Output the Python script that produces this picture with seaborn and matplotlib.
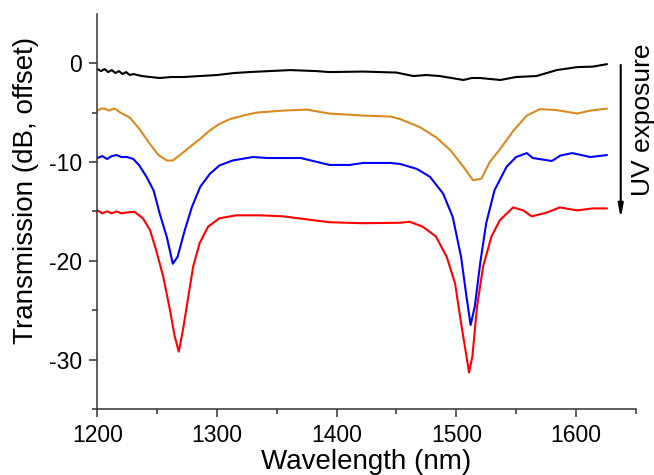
import numpy as np
import pandas as pd
import matplotlib
matplotlib.use("Agg")
import matplotlib.pyplot as plt
from matplotlib.ticker import MultipleLocator, FixedLocator
import seaborn as sns

# ---- data (wavelength in nm, transmission in dB, offset) ----
black_wl = [1200, 1203, 1206, 1209, 1212, 1215, 1218, 1221, 1224, 1227, 1230, 1237, 1244, 1252,
            1262, 1272, 1286, 1300, 1314, 1327, 1344, 1361, 1383, 1394, 1422, 1450, 1464, 1475,
            1486, 1496, 1506, 1513, 1520, 1528, 1537, 1550, 1567, 1584, 1601, 1614, 1626]
black_db = [-0.6, -0.8, -0.6, -0.9, -0.7, -1.0, -0.8, -1.1, -0.9, -1.2, -1.1, -1.3, -1.4, -1.5,
            -1.4, -1.4, -1.3, -1.2, -1.0, -0.9, -0.8, -0.7, -0.8, -0.9, -0.85, -0.95, -1.3, -1.2,
            -1.3, -1.5, -1.7, -1.5, -1.5, -1.6, -1.7, -1.4, -1.3, -0.7, -0.4, -0.35, -0.1]

orange_wl = [1200, 1203, 1206, 1210, 1213, 1216, 1219, 1227, 1235, 1244, 1251, 1258, 1263, 1269,
             1277, 1286, 1294, 1302, 1311, 1322, 1333, 1355, 1375, 1394, 1422, 1445, 1453, 1470,
             1483, 1495, 1506, 1514, 1521, 1528, 1536, 1548, 1559, 1570, 1584, 1601, 1612, 1626]
orange_db = [-4.8, -4.6, -4.6, -4.8, -4.6, -4.7, -5.0, -5.5, -6.65, -8.2, -9.3, -9.85, -9.85, -9.3,
             -8.5, -7.65, -6.8, -6.15, -5.65, -5.3, -5.0, -4.8, -4.7, -5.1, -5.3, -5.4, -5.65, -6.5,
             -7.5, -8.8, -10.5, -11.85, -11.7, -10.0, -8.8, -6.8, -5.3, -4.65, -4.75, -5.1, -4.8, -4.6]

blue_wl = [1200, 1204, 1208, 1212, 1216, 1220, 1225, 1230, 1235, 1241, 1247, 1252, 1258, 1263,
           1267, 1273, 1279, 1286, 1294, 1302, 1313, 1330, 1342, 1370, 1394, 1411, 1422, 1445,
           1453, 1467, 1478, 1489, 1497, 1504, 1508.5, 1512, 1515.5, 1520, 1525, 1532, 1542, 1550,
           1559, 1564, 1580, 1587, 1597, 1612, 1626]
blue_db = [-9.6, -9.4, -9.7, -9.4, -9.3, -9.5, -9.5, -9.7, -10.35, -11.5, -12.9, -15.2, -17.6, -20.3,
           -19.6, -16.9, -14.55, -12.5, -11.2, -10.35, -9.85, -9.5, -9.6, -9.6, -10.3, -10.3, -10.1, -10.1,
           -10.2, -10.7, -11.5, -13.2, -15.55, -19.6, -23.6, -26.5, -24.6, -20.25, -16.2, -12.85, -10.5, -9.5,
           -9.1, -9.6, -9.9, -9.35, -9.1, -9.5, -9.3]

red_wl = [1200, 1204, 1208, 1212, 1216, 1220, 1225, 1231, 1238, 1244, 1249, 1255, 1260.5, 1264.5,
          1268, 1271.5, 1276, 1280, 1285.5, 1292.5, 1302, 1316, 1336, 1355, 1394, 1422, 1453, 1461,
          1472, 1483, 1492, 1499, 1504, 1508.5, 1510.7, 1513.5, 1517.4, 1522.4, 1529.4, 1536.4, 1547.5,
          1556, 1563, 1575, 1586.5, 1601, 1614, 1626]
red_db = [-14.9, -15.2, -15.0, -15.2, -15.0, -15.2, -15.1, -15.05, -15.7, -16.9, -18.9, -21.6, -24.9, -27.6,
          -29.2, -27.0, -23.6, -20.6, -18.2, -16.55, -15.7, -15.4, -15.4, -15.5, -16.1, -16.2, -16.15, -16.05,
          -16.55, -17.55, -19.6, -22.3, -26.3, -29.65, -31.3, -29.65, -24.6, -20.6, -17.55, -15.9, -14.6,
          -14.9, -15.5, -15.15, -14.6, -14.9, -14.7, -14.7]

series_names = ["s0", "s1", "s2", "s3"]
series_colors = ["#000000", "#d98a1f", "#0000ff", "#ff0000"]

frames = []
for name, wl, db in zip(series_names,
                        [black_wl, orange_wl, blue_wl, red_wl],
                        [black_db, orange_db, blue_db, red_db]):
    frames.append(pd.DataFrame({"wavelength": wl, "transmission": db, "series": name}))
df = pd.concat(frames, ignore_index=True)

# ---- plot ----
sns.set_style("ticks")
plt.rcParams["font.family"] = ["Liberation Sans", "DejaVu Sans"]
plt.rcParams["axes.unicode_minus"] = False  # plain hyphen minus like the original
plt.rcParams["text.color"] = "black"
plt.rcParams["axes.labelcolor"] = "black"
plt.rcParams["xtick.labelcolor"] = "black"
plt.rcParams["ytick.labelcolor"] = "black"

fig = plt.figure(figsize=(6.54, 4.75), dpi=100)
ax = fig.add_axes([0.149, 0.139, 0.823, 0.832])

sns.lineplot(data=df, x="wavelength", y="transmission", hue="series",
             palette=dict(zip(series_names, series_colors)), estimator=None,
             linewidth=1.5, legend=False, ax=ax)

ax.set_xlim(1200, 1650)
ax.set_ylim(-35, 5)
ax.xaxis.set_major_locator(FixedLocator([1200, 1300, 1400, 1500, 1600]))
ax.xaxis.set_minor_locator(MultipleLocator(50))
ax.yaxis.set_major_locator(FixedLocator([-30, -20, -10, 0]))
ax.yaxis.set_minor_locator(FixedLocator([-35, -25, -15, -5]))

for side in ["top", "right"]:
    ax.spines[side].set_visible(False)
for side in ["left", "bottom"]:
    ax.spines[side].set_color("#333333")
    ax.spines[side].set_linewidth(1.1)

ax.tick_params(which="major", length=6, width=1.1, color="#333333", labelsize=16.5, pad=5)
ax.tick_params(which="minor", length=3.5, width=1.1, color="#333333")

ax.set_xlabel("Wavelength (nm)", fontsize=20, labelpad=1)
ax.set_ylabel("Transmission (dB, offset)", fontsize=20)
ax.yaxis.set_label_coords(-0.108, 0.552)

# UV exposure arrow
ax.annotate("", xy=(1637.5, -16.0), xytext=(1637.5, 0.1),
            arrowprops=dict(arrowstyle="-|>,head_length=0.8,head_width=0.15",
                            color="black", lw=1.5),
            annotation_clip=False)
ax.text(1656, -5.7, "UV exposure", rotation=90, ha="center", va="center",
        fontsize=19, clip_on=False)

fig.savefig("out.png", dpi=100)
